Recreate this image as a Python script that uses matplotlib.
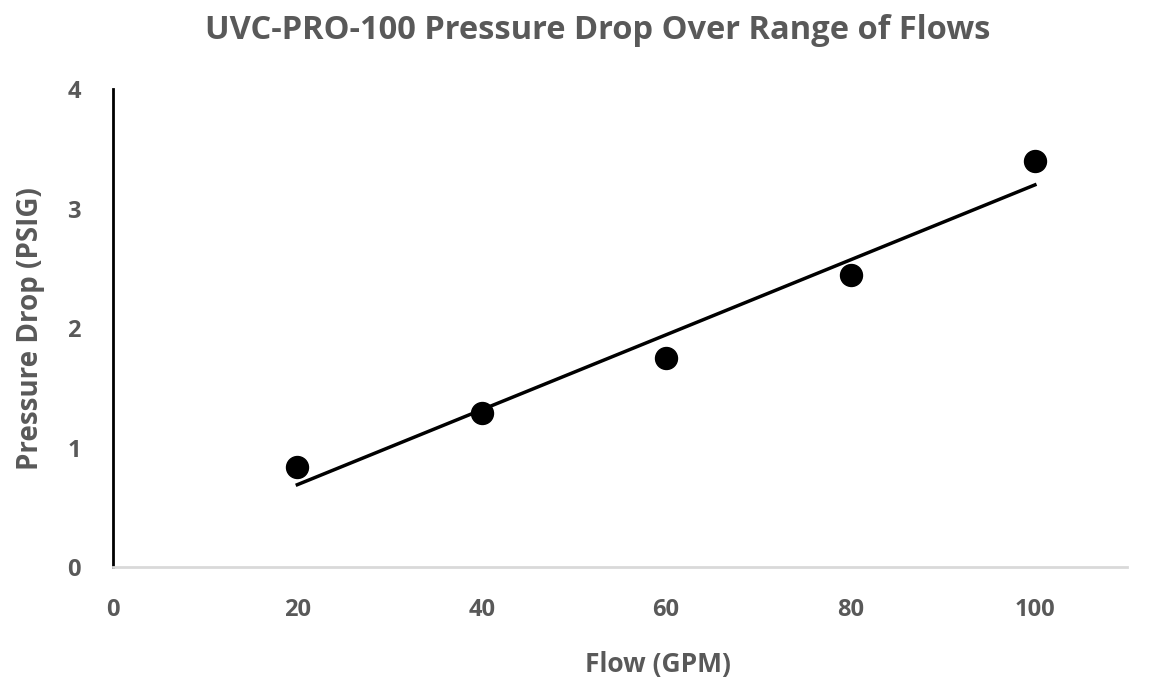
import numpy as np
import matplotlib
matplotlib.use("Agg")
import matplotlib.pyplot as plt

flow_gpm = [20, 40, 60, 80, 100]
pressure_drop_psig = [0.84, 1.29, 1.75, 2.44, 3.40]
x_ticks = [0, 20, 40, 60, 80, 100]
y_ticks = [0, 1, 2, 3, 4]

plt.rcParams['font.family'] = ['Open Sans', 'DejaVu Sans']
gray = '#595959'

fig = plt.figure(figsize=(11.56, 6.9), dpi=100)
ax = fig.add_axes([0.0977, 0.178, 0.8773, 0.693])

ax.scatter(flow_gpm, pressure_drop_psig, s=250, color='black', zorder=3)
coef = np.polyfit(flow_gpm, pressure_drop_psig, 1)
xs = np.array([min(flow_gpm), max(flow_gpm)])
ax.plot(xs, np.polyval(coef, xs), color='black', lw=2.5, zorder=2)

ax.set_xlim(0, 110)
ax.set_ylim(0, 4)
ax.set_xticks(x_ticks)
ax.set_yticks(y_ticks)
ax.tick_params(length=0, labelsize=17, labelcolor=gray)
for lab in ax.get_xticklabels() + ax.get_yticklabels():
    lab.set_fontweight('bold')
ax.tick_params(axis='y', pad=23)
ax.tick_params(axis='x', pad=22)

for s in ['top', 'right']:
    ax.spines[s].set_visible(False)
ax.spines['left'].set_color('black')
ax.spines['left'].set_linewidth(2)
ax.spines['bottom'].set_color('#d9d9d9')
ax.spines['bottom'].set_linewidth(2)

ax.set_xlabel('Flow (GPM)', fontsize=19, fontweight='bold', color=gray, labelpad=21)
ax.xaxis.label.set_x(0.537)
ax.set_ylabel('Pressure Drop (PSIG)', fontsize=20, fontweight='bold', color=gray, labelpad=16)
fig.suptitle('UVC-PRO-100 Pressure Drop Over Range of Flows', fontsize=23.5,
             fontweight='bold', color=gray, x=0.517, y=0.98)

fig.savefig('out.png', dpi=100, facecolor='white')
